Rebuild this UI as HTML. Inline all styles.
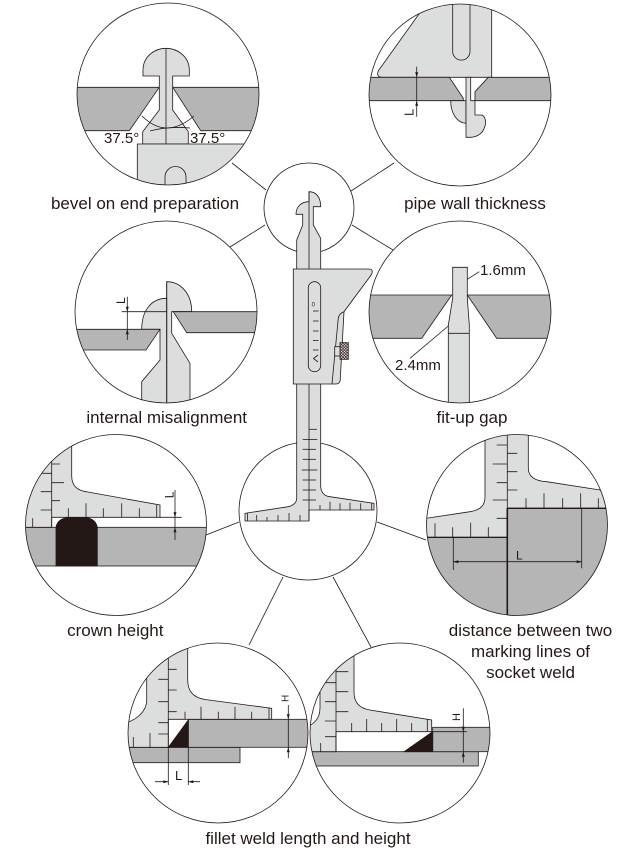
<!DOCTYPE html>
<html><head><meta charset="utf-8"><title>weld gauge</title>
<style>
html,body{margin:0;padding:0;background:#fff;width:630px;height:864px;overflow:hidden}
svg{display:block}
text{font-family:"Liberation Sans",Arial,sans-serif;fill:#231815;stroke:none}
</style></head><body>
<svg width="630" height="864" viewBox="0 0 630 864" xmlns="http://www.w3.org/2000/svg">
<defs>
<clipPath id="k1"><circle cx="168" cy="94" r="91"/></clipPath>
<clipPath id="k2"><circle cx="460" cy="95" r="91"/></clipPath>
<clipPath id="k3"><circle cx="166" cy="312" r="91"/></clipPath>
<clipPath id="k4"><circle cx="460" cy="312" r="91"/></clipPath>
<clipPath id="k5"><circle cx="116" cy="525" r="90.5"/></clipPath>
<clipPath id="k6"><circle cx="517" cy="525" r="90.5"/></clipPath>
<clipPath id="k7"><circle cx="218" cy="733" r="90"/></clipPath>
<clipPath id="k8"><circle cx="400" cy="733" r="90"/></clipPath>
<pattern id="kn" width="2.8" height="2.8" patternUnits="userSpaceOnUse"><rect width="2.8" height="2.8" fill="#fff"/><path d="M0,0L2.8,2.8M2.8,0L0,2.8" stroke="#231815" stroke-width="0.7"/></pattern>
</defs>

<g stroke="#231815" stroke-width="0.8" fill="none">
<!-- connectors -->
<line x1="232" y1="163" x2="266" y2="190"/>
<line x1="351" y1="191" x2="394" y2="163"/>
<line x1="265" y1="225" x2="230" y2="247"/>
<line x1="352" y1="225" x2="393" y2="250"/>
<line x1="239" y1="522" x2="206" y2="535"/>
<line x1="377" y1="522" x2="426" y2="540"/>
<line x1="283" y1="577" x2="249" y2="645"/>
<line x1="333" y1="577" x2="371" y2="647"/>

<!-- ===== Circle 1: bevel ===== -->
<circle cx="168" cy="94" r="91" fill="#fff" stroke="none"/>
<g clip-path="url(#k1)">
 <polygon points="70,87.3 159.3,87.3 129.3,130.7 70,130.7" fill="#b5b5b6"/>
 <polygon points="172.7,87.3 265,87.3 265,130.7 200.7,130.7" fill="#b5b5b6"/>
 <path d="M159.3,110 L159.3,76 L143,76 L143,70 C143,57 154,48.3 166,48.3 C178,48.3 189.3,57 189.3,70 L189.3,76 L172.7,76 L172.7,110 L188.3,131.7 L188.3,144 L142.7,144 L142.7,131.7 Z" fill="#dcdddd"/>
 <path d="M137.3,200 L137.3,144 L265,144 L265,200 Z" fill="#dcdddd"/>
 <path d="M165,200 L165,177 A10.5,10.5 0 0 1 186,177 L186,200"/>
 <line x1="166" y1="48.3" x2="166" y2="144"/>
 <path d="M142,116 Q166,140 194,116"/>
 <path d="M150,131 Q168,126 190,128"/>
</g>
<circle cx="168" cy="94" r="91"/>

<!-- ===== Circle 2: pipe wall ===== -->
<circle cx="460" cy="95" r="91" fill="#fff" stroke="none"/>
<g clip-path="url(#k2)">
 <path d="M429,0 L378.5,70.5 Q375.5,77.3 383,77.3 L491.7,77.3 L491.7,0 Z" fill="#dcdddd"/>
 <path d="M452.7,0 L452.7,51.5 A8.65,8.65 0 0 0 470,51.5 L470,0"/>
 <polygon points="365,77.3 449.3,77.3 463.3,98.3 463.3,100.7 365,100.7" fill="#b5b5b6"/>
 <polygon points="488.3,77.3 560,77.3 560,100.7 475,100.7 475,91.7" fill="#b5b5b6"/>
 <path d="M450.7,100.7 L466,100.7 L466,123.3 C457,123 450.7,113 450.7,100.7 Z" fill="#dcdddd"/>
 <path d="M466,77.3 L470.7,77.3 L470.7,100.7 L475,100.7 L475,115 L482,115 Q486,117 485.5,124 Q483,136.5 470.7,137.3 L466,137.3 Z" fill="#dcdddd"/>
 <line x1="416.7" y1="66.7" x2="416.7" y2="116.7"/>
 <polygon points="415.2,72.3 418.2,72.3 416.7,77.3" fill="#231815" stroke="none"/>
 <polygon points="415.2,105.7 418.2,105.7 416.7,100.7" fill="#231815" stroke="none"/>
</g>
<circle cx="460" cy="95" r="91"/>

<!-- ===== Circle 3: internal misalignment ===== -->
<circle cx="166" cy="312" r="91" fill="#fff" stroke="none"/>
<g clip-path="url(#k3)">
 <path d="M166.7,281.7 C181,281.7 191.7,294 191.7,311.7 L171.7,311.7 L171.7,333.3 L190,363.3 L190,410 L166.7,410 Z" fill="#dcdddd"/>
 <path d="M166.7,298.3 C151,298.3 141.7,311 141.7,329.3 L160,329.3 L160,360 L141.7,381.7 L141.7,410 L166.7,410 Z" fill="#dcdddd"/>
 <polygon points="173.3,311.7 265,311.7 265,332.7 186.7,332.7" fill="#b5b5b6"/>
 <polygon points="65,329.3 160,329.3 146,350 65,350" fill="#b5b5b6"/>
 <line x1="166.7" y1="281.7" x2="166.7" y2="410"/>
 <line x1="121.7" y1="311.7" x2="166.7" y2="311.7"/>
 <line x1="127.3" y1="296.7" x2="127.3" y2="340"/>
 <polygon points="125.8,306.7 128.8,306.7 127.3,311.7" fill="#231815" stroke="none"/>
 <polygon points="125.8,334.3 128.8,334.3 127.3,329.3" fill="#231815" stroke="none"/>
</g>
<circle cx="166" cy="312" r="91"/>

<!-- ===== Circle 4: fit-up gap ===== -->
<circle cx="460" cy="312" r="91" fill="#fff" stroke="none"/>
<g clip-path="url(#k4)">
 <polygon points="360,295 451.7,295 421.7,338.3 360,338.3" fill="#b5b5b6"/>
 <polygon points="467.3,295 560,295 560,338.3 496.7,338.3" fill="#b5b5b6"/>
 <path d="M452.7,267.3 L467.3,267.3 L467.3,298 L469.3,325 L469.3,410 L448.3,410 L448.3,325 L452.7,298 Z" fill="#dcdddd"/>
 <line x1="448.3" y1="333.3" x2="469.3" y2="333.3"/>
 <line x1="467.3" y1="279.3" x2="479.3" y2="271.7"/>
 <line x1="448.3" y1="326" x2="410" y2="358.3"/>
</g>
<circle cx="460" cy="312" r="91"/>

<!-- ===== Circle 5: crown height ===== -->
<circle cx="116" cy="525" r="90.5" fill="#fff" stroke="none"/>
<g clip-path="url(#k5)">
 <rect x="20" y="527.3" width="195" height="38.7" fill="#b5b5b6"/>
 <path d="M56,566 L56,527 Q58,517.3 72,517.3 L82,517.3 Q95,517.3 97.3,527 L97.3,566 Z" fill="#231815"/>
 <path d="M20,430 L71.7,430 L71.7,476 C71.7,486 78,491 88,492 L160,505 L160,517.3 L51.7,517.3 L51.7,527.3 L20,527.3 Z" fill="#dcdddd"/>
 <line x1="51.7" y1="430" x2="51.7" y2="527.3"/>
 <line x1="51.7" y1="464" x2="60" y2="464"/>
 <line x1="40.7" y1="473.3" x2="51.7" y2="473.3"/>
 <line x1="51.7" y1="482.7" x2="64" y2="482.7"/>
 <line x1="40.7" y1="491.7" x2="51.7" y2="491.7"/>
 <line x1="51.7" y1="500.7" x2="60" y2="500.7"/>
 <line x1="40.7" y1="510" x2="51.7" y2="510"/>
 <line x1="32.7" y1="527.3" x2="32.7" y2="518.3"/>
 <line x1="68.3" y1="517.3" x2="68.3" y2="508.3"/>
 <line x1="86" y1="517.3" x2="86" y2="503.3"/>
 <line x1="103.3" y1="517.3" x2="103.3" y2="508.3"/>
 <line x1="121.7" y1="517.3" x2="121.7" y2="503.3"/>
 <line x1="139.3" y1="517.3" x2="139.3" y2="508.3"/>
 <line x1="156.7" y1="517.3" x2="156.7" y2="505"/>
 <line x1="160" y1="517.3" x2="181.7" y2="517.3"/>
 <line x1="175" y1="490" x2="175" y2="540"/>
 <polygon points="173.5,512.3 176.5,512.3 175,517.3" fill="#231815" stroke="none"/>
 <polygon points="173.5,532.3 176.5,532.3 175,527.3" fill="#231815" stroke="none"/>
</g>
<circle cx="116" cy="525" r="90.5"/>

<!-- ===== Circle 6: socket weld ===== -->
<circle cx="517" cy="525" r="90.5" fill="#fff" stroke="none"/>
<g clip-path="url(#k6)">
 <path d="M420,537.3 L507.3,537.3 L507.3,508.3 L615,508.3 L615,620 L420,620 Z" fill="#b5b5b6" stroke-width="1.1"/>
 <path d="M415,520 L470,511.7 C480,510 485,506 485,497 L485,430 L528.3,430 L528.3,468 C528.3,477 535,481 546.7,481.7 L615,492.3 L615,508.3 L507.3,508.3 L507.3,537.3 L415,537.3 Z" fill="#dcdddd"/>
 <line x1="507.3" y1="430" x2="507.3" y2="508.3"/>
 <line x1="507.3" y1="508.3" x2="507.3" y2="620" stroke-width="1.6"/>
 <line x1="507.3" y1="508.3" x2="615" y2="508.3" stroke-width="1.3"/>
 <line x1="420" y1="537.3" x2="507.3" y2="537.3" stroke-width="1.1"/>
 <line x1="496.7" y1="445" x2="507.3" y2="445"/>
 <line x1="507.3" y1="453.3" x2="517.3" y2="453.3"/>
 <line x1="492.7" y1="464" x2="507.3" y2="464"/>
 <line x1="507.3" y1="471.7" x2="517.3" y2="471.7"/>
 <line x1="496.7" y1="482.7" x2="507.3" y2="482.7"/>
 <line x1="507.3" y1="490" x2="517.3" y2="490"/>
 <line x1="492.7" y1="500" x2="507.3" y2="500"/>
 <line x1="496.7" y1="518.3" x2="507.3" y2="518.3"/>
 <line x1="526" y1="508.3" x2="526" y2="498.3"/>
 <line x1="544" y1="508.3" x2="544" y2="493.3"/>
 <line x1="562.7" y1="508.3" x2="562.7" y2="498.3"/>
 <line x1="580.7" y1="508.3" x2="580.7" y2="493.3"/>
 <line x1="598.3" y1="508.3" x2="598.3" y2="498.3"/>
 <line x1="435" y1="537.3" x2="435" y2="523.3"/>
 <line x1="452.7" y1="537.3" x2="452.7" y2="527.3"/>
 <line x1="470.7" y1="537.3" x2="470.7" y2="522.7"/>
 <line x1="488.3" y1="537.3" x2="488.3" y2="527.3"/>
 <line x1="453.3" y1="537.3" x2="453.3" y2="570"/>
 <line x1="581.7" y1="508.3" x2="581.7" y2="568.3"/>
 <line x1="453.3" y1="561.7" x2="581.7" y2="561.7"/>
 <polygon points="453.3,561.7 458.3,560.2 458.3,563.2" fill="#231815" stroke="none"/>
 <polygon points="581.7,561.7 576.7,560.2 576.7,563.2" fill="#231815" stroke="none"/>
</g>
<circle cx="517" cy="525" r="90.5"/>

<!-- ===== Circle 7: fillet 1 ===== -->
<circle cx="218" cy="733" r="90" fill="#fff" stroke="none"/>
<g clip-path="url(#k7)">
 <rect x="120" y="747.3" width="120" height="15.4" fill="#b5b5b6"/>
 <rect x="188.3" y="719.3" width="132" height="28" fill="#b5b5b6"/>
 <polygon points="168.3,747.3 188.3,747.3 188.3,720" fill="#231815"/>
 <path d="M120,724 C135,722 146.7,712 146.7,700 L146.7,640 L187.7,640 L187.7,680 C187.7,693 195,698 205,699.5 L271.7,708.3 L271.7,719.3 L168.3,719.3 L168.3,747.3 L120,747.3 Z" fill="#dcdddd"/>
 <line x1="168.3" y1="640" x2="168.3" y2="747.3"/>
 <line x1="168.3" y1="669.3" x2="176.7" y2="669.3"/>
 <line x1="158.3" y1="679.3" x2="168.3" y2="679.3"/>
 <line x1="168.3" y1="690" x2="176.7" y2="690"/>
 <line x1="158.3" y1="701.7" x2="168.3" y2="701.7"/>
 <line x1="168.3" y1="711.7" x2="176.7" y2="711.7"/>
 <line x1="158.3" y1="722.7" x2="168.3" y2="722.7"/>
 <line x1="158.3" y1="734" x2="168.3" y2="734"/>
 <line x1="185" y1="719.3" x2="185" y2="711.7"/>
 <line x1="201" y1="719.3" x2="201" y2="706.7"/>
 <line x1="218.3" y1="719.3" x2="218.3" y2="711.7"/>
 <line x1="235" y1="719.3" x2="235" y2="706.7"/>
 <line x1="251.7" y1="719.3" x2="251.7" y2="711.7"/>
 <line x1="269" y1="719.3" x2="269" y2="707.5"/>
 <line x1="133.3" y1="747.3" x2="133.3" y2="737"/>
 <line x1="150" y1="747.3" x2="150" y2="733"/>
 <line x1="288.3" y1="705" x2="288.3" y2="758.3"/>
 <polygon points="286.8,714.3 289.8,714.3 288.3,719.3" fill="#231815" stroke="none"/>
 <polygon points="286.8,752.3 289.8,752.3 288.3,747.3" fill="#231815" stroke="none"/>
 <line x1="168.3" y1="747.3" x2="168.3" y2="785"/>
 <line x1="188.3" y1="747.3" x2="188.3" y2="785"/>
 <line x1="155" y1="781.7" x2="168.3" y2="781.7"/>
 <line x1="188.3" y1="781.7" x2="200" y2="781.7"/>
 <polygon points="168.3,781.7 163.3,780.2 163.3,783.2" fill="#231815" stroke="none"/>
 <polygon points="188.3,781.7 193.3,780.2 193.3,783.2" fill="#231815" stroke="none"/>
</g>
<circle cx="218" cy="733" r="90"/>

<!-- ===== Circle 8: fillet 2 ===== -->
<circle cx="400" cy="733" r="90" fill="#fff" stroke="none"/>
<g clip-path="url(#k8)">
 <rect x="300" y="751.7" width="178.3" height="14.3" fill="#b5b5b6"/>
 <rect x="432.7" y="727.3" width="70" height="24.4" fill="#b5b5b6"/>
 <polygon points="404,751.7 432.7,751.7 432.7,731.7" fill="#231815"/>
 <path d="M300,728 C312,727 320,720 320,708 L320,640 L354,640 L354,692 C354,703 360,708.5 370,710 L431.7,720 L431.7,731.7 L336,731.7 L336,751.7 L300,751.7 Z" fill="#dcdddd"/>
 <line x1="336" y1="640" x2="336" y2="751.7"/>
 <line x1="336" y1="671.7" x2="348.3" y2="671.7"/>
 <line x1="325" y1="682.7" x2="336" y2="682.7"/>
 <line x1="336" y1="691.7" x2="348.3" y2="691.7"/>
 <line x1="325" y1="701.7" x2="336" y2="701.7"/>
 <line x1="336" y1="711.7" x2="348.3" y2="711.7"/>
 <line x1="325" y1="721" x2="336" y2="721"/>
 <line x1="325" y1="736.7" x2="336" y2="736.7"/>
 <line x1="351.7" y1="731.7" x2="351.7" y2="723"/>
 <line x1="366.7" y1="731.7" x2="366.7" y2="719"/>
 <line x1="381.7" y1="731.7" x2="381.7" y2="723"/>
 <line x1="396.7" y1="731.7" x2="396.7" y2="719"/>
 <line x1="411.7" y1="731.7" x2="411.7" y2="723"/>
 <line x1="427.3" y1="731.7" x2="427.3" y2="719.5"/>
 <line x1="320.7" y1="751.7" x2="320.7" y2="743"/>
 <line x1="432.7" y1="731.7" x2="466.7" y2="731.7"/>
 <line x1="463.3" y1="708.3" x2="463.3" y2="762.7"/>
 <polygon points="461.8,726.7 464.8,726.7 463.3,731.7" fill="#231815" stroke="none"/>
 <polygon points="461.8,756.7 464.8,756.7 463.3,751.7" fill="#231815" stroke="none"/>
</g>
<circle cx="400" cy="733" r="90"/>

<!-- ===== small top circle & T circle ===== -->
<circle cx="309" cy="208" r="45" fill="#fff"/>
<circle cx="308" cy="511" r="69" fill="#fff"/>

<!-- ===== central gauge ===== -->
<path d="M309,191.7 C316,191.7 320.7,197 320.7,206.7 L313.3,206.7 L313.3,225 L320.7,238.3 L320.7,486 C320.7,492 324,496 330,496.7 L374,503.4 L374,510 L309,510 L309,521 L245,521 L245,513.3 L288.3,506.7 C293,505.5 296.7,503 296.7,498 L296.7,240 L302.7,225 L302.7,214.3 L296,214.3 C296,207 301,201.7 309,201.7 Z" fill="#dcdddd"/>
<line x1="309" y1="191.7" x2="309" y2="521"/>
<line x1="247.5" y1="513" x2="247.5" y2="521"/>
<line x1="371.7" y1="503" x2="371.7" y2="510"/>
<!-- beam ticks -->
<line x1="309" y1="429.3" x2="317" y2="429.3"/>
<line x1="302.7" y1="439.5" x2="317.3" y2="439.5"/>
<line x1="302.7" y1="449.3" x2="316" y2="449.3"/>
<line x1="302.7" y1="459.3" x2="316" y2="459.3"/>
<line x1="301.7" y1="470" x2="317.3" y2="470"/>
<line x1="302.7" y1="480" x2="316" y2="480"/>
<line x1="302.7" y1="490" x2="316" y2="490"/>
<line x1="302.7" y1="500" x2="316" y2="500"/>
<!-- foot ticks -->
<line x1="256.7" y1="521" x2="256.7" y2="515"/>
<line x1="267" y1="521" x2="267" y2="517"/>
<line x1="278" y1="521" x2="278" y2="515"/>
<line x1="289" y1="521" x2="289" y2="513"/>
<line x1="300" y1="521" x2="300" y2="515"/>
<line x1="320" y1="510" x2="320" y2="505"/>
<line x1="330" y1="510" x2="330" y2="501.7"/>
<line x1="340" y1="510" x2="340" y2="503.3"/>
<line x1="350" y1="510" x2="350" y2="502.7"/>
<line x1="360.7" y1="510" x2="360.7" y2="503.3"/>
<!-- body -->
<path d="M293.3,269 L368.3,269 Q374,269 371.5,274.5 L344,311.7 L340.2,380 Q339.8,384 336,384 L293.3,384 Z" fill="#dcdddd"/>
<path d="M344,311.7 Q338.5,313.5 338.2,319 L332,384"/>
<rect x="334.7" y="346.7" width="6" height="9.3" fill="#dcdddd"/>
<rect x="340" y="342.7" width="8.3" height="16.6" fill="url(#kn)"/>
<rect x="308.3" y="281.7" width="12.4" height="90" rx="6.2" fill="#dcdddd"/>
<line x1="313" y1="311" x2="318.5" y2="311"/>
<line x1="313" y1="321" x2="318.5" y2="321"/>
<line x1="313" y1="331" x2="318.5" y2="331"/>
<line x1="313" y1="340.5" x2="318.5" y2="340.5"/>
<line x1="313" y1="350" x2="318.5" y2="350"/>
<polyline points="318,355 313.5,358.5 318,362"/>
</g>

<!-- inner small labels -->
<text x="313.3" y="306.5" font-size="6" text-anchor="middle">0</text>
<text x="104" y="143" font-size="15">37.5°</text>
<text x="190" y="143" font-size="15">37.5°</text>
<text x="480" y="275" font-size="15">1.6mm</text>
<text x="395" y="370" font-size="15">2.4mm</text>
<text x="413.3" y="116" font-size="13" transform="rotate(-90 413.3 116)">L</text>
<text x="125" y="304" font-size="12" transform="rotate(-90 125 304)">L</text>
<text x="173.3" y="498.3" font-size="12" transform="rotate(-90 173.3 498.3)">L</text>
<text x="516" y="559.5" font-size="12">L</text>
<text x="175" y="780" font-size="13">L</text>
<text x="288.3" y="702" font-size="10" transform="rotate(-90 288.3 702)">H</text>
<text x="460" y="721" font-size="11" transform="rotate(-90 460 721)">H</text>

<!-- captions -->
<text x="145" y="209" font-size="17" text-anchor="middle">bevel on end preparation</text>
<text x="475" y="209" font-size="17" text-anchor="middle">pipe wall thickness</text>
<text x="166.7" y="423" font-size="17" text-anchor="middle">internal misalignment</text>
<text x="472" y="423" font-size="17" text-anchor="middle">fit-up gap</text>
<text x="115.3" y="636" font-size="17" text-anchor="middle">crown height</text>
<text x="530.5" y="636" font-size="17" text-anchor="middle">distance between two</text>
<text x="530.5" y="657" font-size="17" text-anchor="middle">marking lines of</text>
<text x="530.5" y="678" font-size="17" text-anchor="middle">socket weld</text>
<text x="308" y="844" font-size="17" text-anchor="middle">fillet weld length and height</text>
</svg>
</body></html>
